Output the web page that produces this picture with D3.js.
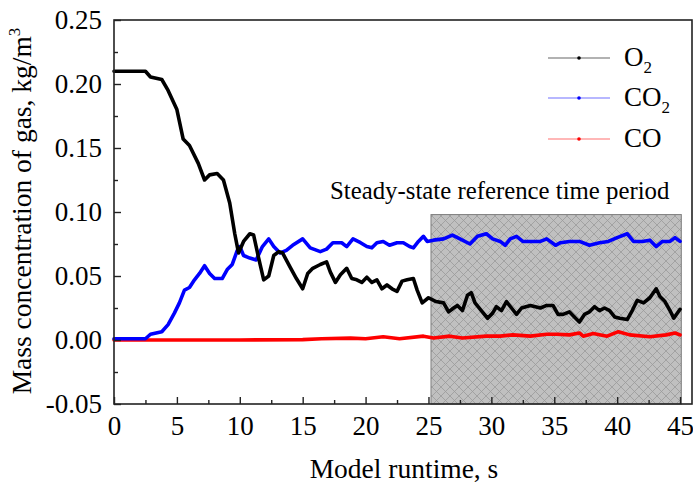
<!DOCTYPE html>
<html><head><meta charset="utf-8">
<script src="https://cdn.jsdelivr.net/npm/d3@7"></script>
<style>
html,body{margin:0;padding:0;background:#fff;}
svg text{font-family:"Liberation Serif","Times New Roman",serif;fill:#000;}
</style></head>
<body><svg id="c" width="693" height="485"></svg>
<script>
// ---- data ----
const o2Time = [0,2.5,2.9,3.8,4.3,5.0,5.5,6.0,6.7,7.2,7.6,8.2,8.7,9.2,9.6,9.9,10.3,10.8,11.1,11.5,11.9,12.3,12.7,13.1,13.4,14.0,14.5,15.0,15.4,15.8,16.4,16.9,17.2,17.6,18.0,18.5,18.9,19.3,19.7,20.1,20.5,20.9,21.3,21.7,22.1,22.5,22.9,23.3,23.8,24.1,24.5,25.0,25.6,26.2,26.6,27.0,27.3,27.7,28.1,28.4,28.7,29.2,29.7,30.1,30.4,30.8,31.2,31.6,32.0,32.4,33.1,33.9,34.4,34.9,35.3,35.7,36.2,36.6,37.0,37.4,37.8,38.2,38.6,39.0,39.4,39.8,40.2,40.8,41.2,41.6,42.1,42.6,43.1,43.4,43.8,44.2,44.5,45.0];
const o2Value = [0.210,0.210,0.2055,0.2035,0.195,0.180,0.157,0.152,0.138,0.125,0.129,0.130,0.125,0.107,0.083,0.068,0.077,0.083,0.082,0.064,0.047,0.050,0.066,0.069,0.068,0.057,0.048,0.040,0.052,0.056,0.059,0.061,0.053,0.045,0.051,0.056,0.048,0.047,0.045,0.049,0.045,0.047,0.040,0.043,0.040,0.038,0.046,0.047,0.048,0.039,0.029,0.033,0.030,0.029,0.022,0.025,0.027,0.023,0.035,0.037,0.029,0.023,0.017,0.021,0.026,0.023,0.030,0.025,0.020,0.025,0.027,0.025,0.027,0.027,0.020,0.020,0.022,0.018,0.014,0.020,0.022,0.026,0.023,0.025,0.023,0.018,0.017,0.016,0.023,0.031,0.029,0.033,0.040,0.034,0.030,0.023,0.017,0.024];

const co2Time = [0,2.5,2.9,3.8,4.3,4.8,5.2,5.6,6.0,6.4,6.8,7.2,7.6,8.0,8.6,9.0,9.4,9.8,10.0,10.3,10.8,11.3,11.8,12.3,12.7,13.2,13.7,14.2,15.0,15.6,16.4,16.9,17.4,18.1,18.5,19.0,19.6,20.1,20.5,20.9,21.4,21.9,22.5,23.0,23.5,23.8,24.2,24.6,24.9,25.4,26.2,26.9,27.5,28.3,28.9,29.6,30.1,30.7,31.1,31.5,32.0,32.5,33.3,33.9,34.4,35.1,35.5,36.2,37.0,37.8,38.6,39.3,40.0,40.8,41.3,42.0,42.6,43.1,43.6,44.2,44.6,45.0];
const co2Value = [0.001,0.001,0.0045,0.0065,0.012,0.021,0.029,0.039,0.041,0.047,0.052,0.058,0.052,0.048,0.048,0.055,0.059,0.070,0.073,0.066,0.064,0.0625,0.073,0.079,0.073,0.068,0.070,0.074,0.079,0.072,0.069,0.071,0.076,0.076,0.073,0.079,0.076,0.073,0.072,0.076,0.077,0.074,0.076,0.076,0.073,0.072,0.077,0.081,0.077,0.078,0.079,0.082,0.079,0.075,0.081,0.083,0.079,0.077,0.074,0.079,0.081,0.077,0.077,0.077,0.079,0.074,0.076,0.077,0.077,0.074,0.076,0.077,0.080,0.083,0.077,0.077,0.078,0.073,0.077,0.077,0.080,0.077];

const coTime = [0,10,15,16.5,18.8,20,21.4,22.7,24.6,25.4,26.7,27.7,29.6,30.7,31.7,33.1,34.4,35.2,36.2,37.0,37.3,38.1,39.2,40.1,41.0,42.6,43.9,44.6,45.0];
const coValue = [0,0,0.0003,0.001,0.0015,0.001,0.0025,0.001,0.003,0.0015,0.003,0.0015,0.003,0.003,0.004,0.003,0.0045,0.0045,0.004,0.0055,0.003,0.005,0.003,0.0065,0.004,0.0025,0.004,0.0055,0.004];

const xTicks = [0,5,10,15,20,25,30,35,40,45];
const yTicks = [-0.05,0.00,0.05,0.10,0.15,0.20,0.25];
const steadyPeriod = [25.2, 45.1];
const steadyTop = 0.098;
const seriesNames = ["O2","CO2","CO"];

// ---- layout ----
const svg = d3.select("#c");
const L = 114, R = 692, T = 20, B = 404;
const x = d3.scaleLinear().domain([0, 45.95]).range([L, R]);
const y = d3.scaleLinear().domain([-0.05, 0.25]).range([B, T]);

// hatch pattern
const defs = svg.append("defs");
const pat = defs.append("pattern").attr("id","hatch").attr("patternUnits","userSpaceOnUse")
  .attr("width",9).attr("height",9);
pat.append("rect").attr("width",9).attr("height",9).attr("fill","#c0c0c0");
pat.append("path").attr("d","M0,0L9,9M9,0L0,9").attr("stroke","#9a9a9a").attr("stroke-width",0.8).attr("fill","none");

// steady-state rectangle
svg.append("rect")
  .attr("x", x(steadyPeriod[0])).attr("y", y(steadyTop))
  .attr("width", x(steadyPeriod[1]) - x(steadyPeriod[0]))
  .attr("height", y(-0.05) - y(steadyTop))
  .attr("fill","url(#hatch)").attr("stroke","#7f7f7f").attr("stroke-width",1);

svg.append("text").attr("x", 330).attr("y", 199).attr("font-size", 24.8)
  .text("Steady-state reference time period");

// lines
const line = d3.line().x(d => x(d[0])).y(d => y(d[1]));
function drawSeries(t, v, color){
  svg.append("path").datum(t.map((tt,i)=>[tt, v[i]]))
    .attr("d", line).attr("fill","none").attr("stroke",color)
    .attr("stroke-width",3.6).attr("stroke-linejoin","round").attr("stroke-linecap","round");
}
drawSeries(coTime, coValue, "#ff0000");
drawSeries(co2Time, co2Value, "#0000ff");
drawSeries(o2Time, o2Value, "#000000");

// frame
svg.append("rect").attr("x",L).attr("y",T).attr("width",R-L).attr("height",B-T)
  .attr("fill","none").attr("stroke","#222").attr("stroke-width",1.6);

// axes (ticks inside)
const xAxis = d3.axisBottom(x).tickValues(xTicks).tickSizeInner(-7).tickSizeOuter(0).tickPadding(12).tickFormat(d3.format("d"));
const gx = svg.append("g").attr("transform",`translate(0,${B})`).call(xAxis);
gx.select(".domain").remove();
gx.selectAll(".tick line").attr("stroke","#222").attr("stroke-width",1.4);
gx.selectAll("text").attr("font-size",27).attr("font-family","Liberation Serif").attr("fill","#000");
const gxm = svg.append("g").attr("transform",`translate(0,${B})`)
  .call(d3.axisBottom(x).tickValues(d3.range(2.5,45,5)).tickSizeInner(-4).tickSizeOuter(0).tickFormat(""));
gxm.select(".domain").remove();
gxm.selectAll(".tick line").attr("stroke","#222").attr("stroke-width",1.4);

const yAxis = d3.axisLeft(y).tickValues(yTicks).tickSizeInner(-7).tickSizeOuter(0).tickPadding(12).tickFormat(d3.format(".2f"));
const gy = svg.append("g").attr("transform",`translate(${L},0)`).call(yAxis);
gy.select(".domain").remove();
gy.selectAll(".tick line").attr("stroke","#222").attr("stroke-width",1.4);
gy.selectAll("text").attr("font-size",27).attr("font-family","Liberation Serif").attr("fill","#000")
  .text(d => d < 0 ? "-" + d3.format(".2f")(-d) : d3.format(".2f")(d));
const gym = svg.append("g").attr("transform",`translate(${L},0)`)
  .call(d3.axisLeft(y).tickValues(d3.range(-0.025,0.25,0.05)).tickSizeInner(-4).tickSizeOuter(0).tickFormat(""));
gym.select(".domain").remove();
gym.selectAll(".tick line").attr("stroke","#222").attr("stroke-width",1.4);

// axis titles
svg.append("text").attr("x",404).attr("y",478).attr("text-anchor","middle").attr("font-size",27.5)
  .text("Model runtime, s");
const yt = svg.append("text").attr("transform",`translate(31,211) rotate(-90)`)
  .attr("text-anchor","middle").attr("font-size",27.5);
yt.append("tspan").text("Mass concentration of gas, kg/m");
yt.append("tspan").attr("font-size",17).attr("dy",-11).text("3");

// legend
const legColors = [["#999999","#000"],["#9f9fff","#0000ff"],["#ff9f9f","#ff0000"]];
const legY = [58, 98, 139];
seriesNames.forEach((n,i)=>{
  const g = svg.append("g");
  g.append("line").attr("x1",548).attr("x2",610).attr("y1",legY[i]).attr("y2",legY[i])
    .attr("stroke",legColors[i][0]).attr("stroke-width",1.5);
  g.append("circle").attr("cx",579).attr("cy",legY[i]).attr("r",1.8).attr("fill",legColors[i][1]);
  const t = g.append("text").attr("x",624).attr("y",legY[i]+8).attr("font-size",27);
  if (n === "O2") { t.append("tspan").text("O"); t.append("tspan").attr("font-size",17).attr("dy",7).text("2"); }
  else if (n === "CO2") { t.append("tspan").text("CO"); t.append("tspan").attr("font-size",17).attr("dy",7).text("2"); }
  else t.text(n);
});
</script></body></html>
